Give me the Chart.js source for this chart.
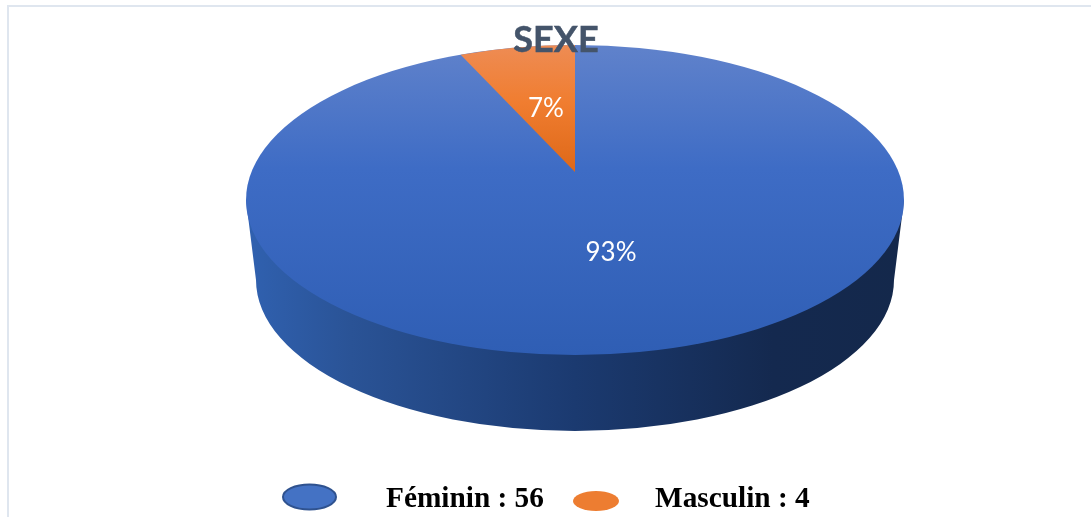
<!DOCTYPE html>
<html lang="fr">
<head>
<meta charset="utf-8">
<title>SEXE</title>
<style>
  html, body { margin: 0; padding: 0; background: #fff; overflow: hidden; }
  #wrap { position: relative; width: 1091px; height: 517px; }
  #frame { position: absolute; left: 7px; top: 5px; right: 0; bottom: 0;
           border-left: 2px solid #dfe6ef; border-top: 2px solid #dfe6ef; }
  canvas { position: absolute; left: 0; top: 0; }
</style>
</head>
<body>
<div id="wrap">
  <div id="frame"></div>
  <canvas id="chart" width="1091" height="517"></canvas>
</div>
<script src="https://cdn.jsdelivr.net/npm/chart.js@4/dist/chart.umd.min.js"></script>
<script>
const chartTitle = 'SEXE';
const categories = ['Féminin', 'Masculin'];
const effectifs = [56, 4];
const sliceColors = ['#4472c4', '#ed7d31'];

// pie top face, side wall and perspective of the 3D look
const top3d = { cx: 575, cy: 200, rx: 329, ry: 155 };
const bottom3d = { cx: 575, cy: 280, rx: 319, ry: 151 };
const apex = { x: 575, y: 172 };
const flatten = 0.457;

// point on the top ellipse reached by the ray leaving the apex at pie angle a
function rimPoint(a) {
    const dx = Math.cos(a), dy = Math.sin(a) * flatten;
    const ox = (apex.x - top3d.cx) / top3d.rx, oy = (apex.y - top3d.cy) / top3d.ry;
    const ux = dx / top3d.rx, uy = dy / top3d.ry;
    const A = ux * ux + uy * uy, B = 2 * (ox * ux + oy * uy), C = ox * ox + oy * oy - 1;
    const t = (-B + Math.sqrt(B * B - 4 * A * C)) / (2 * A);
    return { x: apex.x + dx * t, y: apex.y + dy * t };
}

function verticalGradient(ctx, stops) {
    const g = ctx.createLinearGradient(0, top3d.cy - top3d.ry, 0, top3d.cy + top3d.ry);
    stops.forEach(s => g.addColorStop(s[0], s[1]));
    return g;
}

const pie3dPlugin = {
    id: 'pie3d',
    beforeDatasetDraw(chart, args) {
        const ctx = chart.ctx;
        const arcs = chart.getDatasetMeta(args.index).data;

        // side wall
        const wall = ctx.createLinearGradient(top3d.cx - top3d.rx, 0, top3d.cx + top3d.rx, 0);
        wall.addColorStop(0, '#3061b0');
        wall.addColorStop(0.16, '#2a5396');
        wall.addColorStop(0.5, '#1b3a70');
        wall.addColorStop(0.8, '#14294f');
        wall.addColorStop(1, '#14284b');
        ctx.save();
        ctx.beginPath();
        ctx.moveTo(top3d.cx - top3d.rx, top3d.cy);
        ctx.lineTo(bottom3d.cx - bottom3d.rx, bottom3d.cy);
        ctx.ellipse(bottom3d.cx, bottom3d.cy, bottom3d.rx, bottom3d.ry, 0, Math.PI, 0, true);
        ctx.lineTo(top3d.cx + top3d.rx, top3d.cy);
        ctx.closePath();
        ctx.fillStyle = wall;
        ctx.fill();

        // top face: first slice as the whole ellipse, the others on top
        ctx.beginPath();
        ctx.ellipse(top3d.cx, top3d.cy, top3d.rx, top3d.ry, 0, 0, Math.PI * 2);
        ctx.fillStyle = verticalGradient(ctx, [[0, '#6082cb'], [0.4, '#3e6cc5'], [1, '#2f5eb4']]);
        ctx.fill();

        arcs.slice(1).forEach(arc => {
            const p0 = rimPoint(arc.startAngle), p1 = rimPoint(arc.endAngle);
            const a0 = Math.atan2((p0.y - top3d.cy) / top3d.ry, (p0.x - top3d.cx) / top3d.rx);
            const a1 = Math.atan2((p1.y - top3d.cy) / top3d.ry, (p1.x - top3d.cx) / top3d.rx);
            ctx.beginPath();
            ctx.moveTo(apex.x, apex.y);
            ctx.lineTo(p0.x, p0.y);
            ctx.ellipse(top3d.cx, top3d.cy, top3d.rx, top3d.ry, 0, a0, a1);
            ctx.closePath();
            const g = ctx.createLinearGradient(0, top3d.cy - top3d.ry, 0, apex.y);
            g.addColorStop(0, '#ee8c54');
            g.addColorStop(0.45, '#f07d30');
            g.addColorStop(1, '#de6818');
            ctx.fillStyle = g;
            ctx.fill();
        });
        ctx.restore();
        return false;
    },
    afterDatasetsDraw(chart) {
        const ctx = chart.ctx;
        const total = effectifs.reduce((a, b) => a + b, 0);
        ctx.save();

        // titre par-dessus le camembert
        ctx.textBaseline = 'alphabetic';
        ctx.textAlign = 'center';
        ctx.fillStyle = '#44546a';
        ctx.strokeStyle = '#44546a';
        ctx.lineWidth = 0.5;
        ctx.font = 'bold 36px Lato, sans-serif';
        ctx.fillText(chartTitle, 556, 52);
        ctx.strokeText(chartTitle, 556, 52);

        // pourcentages
        ctx.fillStyle = '#ffffff';
        ctx.font = '26px Lato, sans-serif';
        const labelPos = [[611, 261], [546, 117]];
        effectifs.forEach((v, i) => {
            ctx.fillText(Math.round(v / total * 100) + '%', labelPos[i][0], labelPos[i][1]);
        });

        // legende
        ctx.textAlign = 'left';
        ctx.font = 'bold 29.3px "Liberation Serif", serif';
        const legendText = [386, 655];
        const legendBase = [507, 507];
        const markers = [[309.5, 497, 26.5, 12.5], [596, 501, 23, 10]];
        categories.forEach((c, i) => {
            const m = markers[i];
            ctx.beginPath();
            ctx.ellipse(m[0], m[1], m[2], m[3], 0, 0, Math.PI * 2);
            ctx.fillStyle = sliceColors[i];
            ctx.fill();
            if (i === 0) {
                ctx.lineWidth = 2;
                ctx.strokeStyle = '#2f528f';
                ctx.stroke();
            }
            ctx.fillStyle = '#000000';
            ctx.fillText(c + ' : ' + effectifs[i], legendText[i], legendBase[i]);
        });
        ctx.restore();
    }
};

new Chart(document.getElementById('chart'), {
    type: 'pie',
    data: {
        labels: categories,
        datasets: [{ data: effectifs, backgroundColor: sliceColors, borderWidth: 0 }]
    },
    options: {
        responsive: false,
        animation: false,
        plugins: {
            legend: { display: false },
            title: { display: false },
            tooltip: { enabled: false }
        }
    },
    plugins: [pie3dPlugin]
});
</script>
</body>
</html>
